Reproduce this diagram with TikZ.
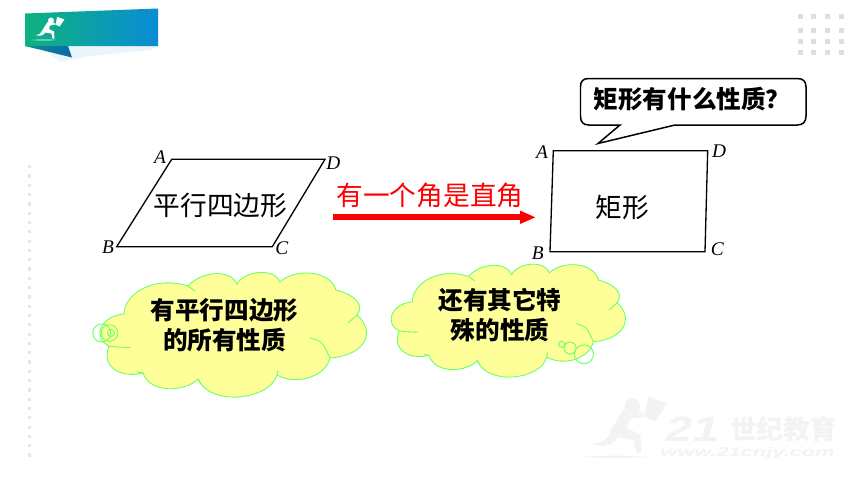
\documentclass[tikz,border=0pt]{standalone}
\usepackage{fontspec}
\setmainfont{Liberation Serif}
\newfontfamily\cjk{Noto Sans CJK SC}
\newfontfamily\latinsans{Liberation Sans}
\usetikzlibrary{arrows.meta}
\definecolor{cloudfill}{HTML}{FFFF99}
\definecolor{cloudline}{HTML}{66FF66}
\definecolor{markgray}{HTML}{F3F3F3}
\definecolor{bannerleft}{HTML}{0DB27C}
\definecolor{bannerright}{HTML}{0A8CD6}
\definecolor{foldleft}{HTML}{0E8A9A}
\definecolor{foldright}{HTML}{0A6AA8}
\definecolor{bannershadow}{HTML}{EAF6FA}
\tikzset{
  vertexlabel/.style={font=\fontsize{11}{12}\selectfont\itshape, inner sep=0pt},
  figline/.style={line width=0.75pt, line join=miter},
  figtext/.style={font=\cjk\fontsize{15.2}{18}\selectfont, inner sep=0pt},
  cloudtext/.style={font=\cjk\bfseries\fontsize{14}{17}\selectfont, align=center, inner sep=0pt},
  cloudedge/.style={draw=cloudline, line width=0.5pt},
  marktext/.style={text=markgray, inner sep=0pt},
}
% scalloped outline, in the pixels of the first cloud
\newcommand{\cloudbody}{
  \filldraw[cloudedge, fill=cloudfill] (29,86) .. controls (12,78) and (20,56) .. (44,54)
    .. controls (44,35) and (72,15) .. (108,26) .. controls (120,12) and (150,8) .. (157,24)
    .. controls (165,10) and (195,8) .. (200,22) .. controls (215,8) and (250,10) .. (256,30)
    .. controls (275,35) and (285,45) .. (277,55) .. controls (295,70) and (288,95) .. (250,98)
    .. controls (245,118) and (215,125) .. (197,115) .. controls (190,140) and (130,147) .. (118,119)
    .. controls (105,132) and (70,134) .. (63,113) .. controls (45,118) and (20,110) .. (29,86) -- cycle;
  \draw[cloudedge] (29,86) .. controls (35,87) .. (50,87.5);
  \draw[cloudedge] (277,55) -- (268,63);
  \draw[cloudedge] (230,78) .. controls (242,81) .. (250,98);
  \draw[cloudedge] (108,26) -- (115,31);
  \draw[cloudedge] (197,115) -- (198,110);
  \draw[cloudedge] (118,119) -- (121,124);
  \draw[cloudedge] (63,113) -- (57,112);
}
% running figure with a flag
\newcommand{\runnerbody}{
  \fill (19,3.5) circle (3);
  \fill (15.5,5) -- (23,6) -- (23.5,7.6) -- (18,8.5) -- (17,12) -- (22,14.5) -- (22.5,21.5) -- (20.5,21.5)
    -- (19.5,16.5) -- (13.5,15.5) .. controls (11,19) and (7,19.5) .. (3.5,18)
    .. controls (7,18) and (10,16) .. (10.5,13) -- cycle;
  \fill (25.1,-0.1) -- (32.4,2.4) -- (27.7,9.5) -- (23.6,7.7) -- cycle;
  \fill (0.1,23) .. controls (8,22.4) and (16,22.4) .. (24.5,23) .. controls (16,23.6) and (8,23.6) .. (0.1,23) -- cycle;
}
\begin{document}
\begin{tikzpicture}[x=0.02cm, y=-0.02cm]
\useasboundingbox (0,0) rectangle (860,484);
\fill[white] (0,0) rectangle (860,484);

% banner
\fill[bannershadow] (40,46) -- (158,46) -- (150,50) -- (90,56) -- (60,62) -- cycle;
\shade[left color=foldleft, right color=foldright] (25,46) -- (68,46) -- (72,57.5) -- cycle;
\shade[left color=bannerleft, right color=bannerright] (25,13.5) -- (158,8.5) -- (158,46) -- (25,46) -- cycle;
\begin{scope}[shift={(32,17)}, white]
\runnerbody
\end{scope}

% dots at the top right
\foreach \x in {800,813.5,827,841}
  \foreach \y in {16.7,30,41,52.5}
    \fill[black!13] (\x-2.5,\y-2.5) rectangle (\x+2.5,\y+2.5);

% dotted line at the left
\foreach \y in {166.7,176,...,456}
  \fill[black!10] (27.8,\y-1.6) rectangle (31,\y+1.6);

% watermark
\begin{scope}[shift={(583,397)}, scale=2.6, markgray]
\runnerbody
\end{scope}
\node[marktext, font=\latinsans\bfseries\itshape\fontsize{20}{24}\selectfont, xscale=1.4] (mark21) at (693,429) {21};
\node[marktext, font=\cjk\bfseries\fontsize{15.1}{18}\selectfont] (markname) at (783.5,429) {世纪教育};
\node[marktext, font=\latinsans\bfseries\itshape\fontsize{7.3}{9}\selectfont, xscale=1.7] (markurl) at (747.5,453) {www.21cnjy.com};

% parallelogram
\coordinate (A1) at (171.7,159.3);
\coordinate (D1) at (325,159.3);
\coordinate (C1) at (272.3,246.7);
\coordinate (B1) at (116.7,246.7);
\draw[figline] (A1) -- (D1) -- (C1) -- (B1) -- cycle;
\node[figtext] (para) at (220.5,205) {平行四边形};
\node[vertexlabel] (labA1) at (160,156.7) {A};
\node[vertexlabel] (labD1) at (333.3,163.3) {D};
\node[vertexlabel] (labC1) at (281.7,248.3) {C};
\node[vertexlabel] (labB1) at (108,246.7) {B};

% arrow
\coordinate (arrowa) at (333,217.3);
\coordinate (arrowb) at (536,217.3);
\draw[red, line width=3.2pt, -{Triangle[length=9pt,width=6.8pt]}] (arrowa) -- (arrowb);
\node[figtext, text=red] (cond) at (430,195) {有一个角是直角};

% rectangle
\coordinate (A2) at (553.3,150.7);
\coordinate (D2) at (707.7,150.7);
\coordinate (C2) at (705,251.7);
\coordinate (B2) at (550,251.7);
\draw[figline] (A2) -- (D2) -- (C2) -- (B2) -- cycle;
\node[figtext] (rect) at (622,207) {矩形};
\node[vertexlabel] (labA2) at (542,151.7) {A};
\node[vertexlabel] (labD2) at (719,151) {D};
\node[vertexlabel] (labC2) at (717.3,249) {C};
\node[vertexlabel] (labB2) at (537.7,253.3) {B};

% callout
\draw[line width=0.85pt, line join=miter, fill=white] (589,78.5) -- (797,78.5) .. controls (803,78.5) and (806,81) .. (806,87)
  -- (806,116) .. controls (806,122) and (803,125) .. (797,125) -- (675,125) -- (598,143.5) -- (620,125)
  -- (589,125) .. controls (583,125) and (580.5,122) .. (580.5,116) -- (580.5,87) .. controls (580.5,81) and (583,78.5) .. (589,78.5) -- cycle;
\node[cloudtext] (ask) at (692,99) {矩形有什么性质？};

% left cloud
\begin{scope}[shift={(80,260)}]
\cloudbody
\end{scope}
\draw[cloudedge] (101.7,333) circle (9);
\draw[cloudedge] (109.5,333) circle (8.3);
\draw[cloudedge] (111,333) circle (3.5);
\node[cloudtext] (has) at (224.5,325) {有平行四边形\\的所有性质};

% right cloud
\begin{scope}[shift={(373.6,252.9)}, xscale=.879, yscale=.906]
\cloudbody
\end{scope}
\draw[cloudedge] (561.7,344.3) circle (3);
\draw[cloudedge] (570,348) circle (6);
\draw[cloudedge] (584,354.3) circle (9.5);
\node[cloudtext] (other) at (500,315) {还有其它特\\殊的性质};
\end{tikzpicture}
\end{document}
